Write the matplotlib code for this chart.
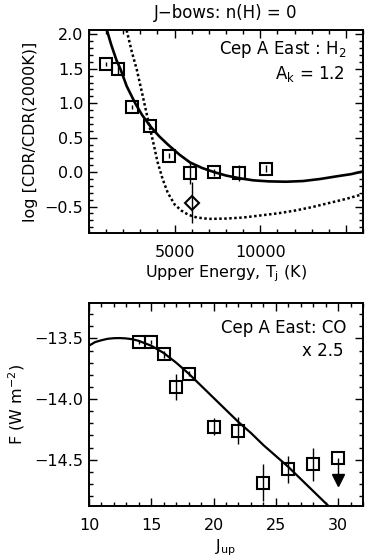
import numpy as np
import matplotlib
matplotlib.use("Agg")
import matplotlib.pyplot as plt
from matplotlib.ticker import MultipleLocator, FixedLocator, FuncFormatter

plt.rcParams['font.family'] = ['DejaVu Sans']
plt.rcParams['font.size'] = 11
plt.rcParams['axes.linewidth'] = 1.4

# ---- top panel: H2 column density ratio ----
h2_energy = [1000, 1710, 2540, 3550, 4650, 5900, 7290, 8740, 10310]
h2_logcdr = [1.57, 1.49, 0.94, 0.67, 0.24, -0.02, 0.00, -0.01, 0.05]
h2_err = [0.03, 0.06, 0.03, 0.03, 0.03, 0.15, 0.05, 0.12, 0.05]

diam_energy = [6030]
diam_logcdr = [-0.445]
diam_err = [0.30]

solid_x = [1050, 1300, 1600, 1850, 2200, 2700, 3100, 3600, 4100, 4650, 5300, 5900,
           6600, 7300, 8000, 8800, 9600, 10500, 11500, 12500, 13500, 14500, 15300, 16000]
solid_y = [2.06, 1.85, 1.63, 1.49, 1.25, 1.00, 0.83, 0.66, 0.52, 0.39, 0.25, 0.14,
           0.06, 0.00, -0.05, -0.09, -0.12, -0.135, -0.14, -0.13, -0.10, -0.06, -0.03, 0.01]

dot_x = [2200, 2500, 2800, 3100, 3500, 3800, 4000, 4300, 4600, 5000, 5400, 5800, 6300,
         7000, 8000, 9000, 10000, 11000, 12000, 13000, 14000, 15000, 16000]
dot_y = [2.06, 1.75, 1.48, 1.15, 0.70, 0.38, 0.15, -0.10, -0.30, -0.47, -0.56, -0.62, -0.66,
         -0.68, -0.675, -0.66, -0.63, -0.60, -0.56, -0.51, -0.45, -0.39, -0.32]

# ---- bottom panel: CO fluxes ----
co_j = [14, 15, 16, 17, 18, 20, 22, 24, 26, 28]
co_logf = [-13.53, -13.53, -13.63, -13.90, -13.79, -14.23, -14.26, -14.69, -14.58, -14.54]
co_err = [0.02, 0.02, 0.03, 0.11, 0.02, 0.07, 0.11, 0.15, 0.11, 0.14]
lim_j = [30]
lim_logf = [-14.49]
lim_arrow = [-14.67]

co_model_j = [10, 10.5, 11, 11.5, 12, 12.5, 13, 13.5, 14, 14.5, 15, 15.5, 16, 17, 18,
              19, 20, 21, 22, 23, 24, 25, 26, 27, 28, 29, 29.2]
co_model_f = [-13.56, -13.53, -13.515, -13.503, -13.498, -13.497, -13.50, -13.507,
              -13.52, -13.54, -13.56, -13.59, -13.62, -13.70, -13.79, -13.89, -13.99,
              -14.09, -14.19, -14.28, -14.38, -14.47, -14.56, -14.66, -14.76, -14.86, -14.88]

minus_fmt = FuncFormatter(lambda v, p: ('%.1f' % v).replace('-', '\u2212'))

fig = plt.figure(figsize=(3.66, 5.60), dpi=100)
ax1 = fig.add_axes([0.243, 0.5845, 0.749, 0.3615])
ax2 = fig.add_axes([0.243, 0.097, 0.749, 0.3614])

for ax in (ax1, ax2):
    ax.tick_params(which='both', direction='in', top=True, right=True, width=1.0)
    ax.tick_params(which='major', length=6, labelsize=11.5)
    ax.tick_params(which='minor', length=3)
    ax.tick_params(axis='x', which='major', pad=9)
    ax.tick_params(axis='y', which='major', pad=4)

# top
ax1.plot(solid_x, solid_y, color='k', lw=1.9)
ax1.plot(dot_x, dot_y, color='k', lw=1.8, ls=(0, (1, 1)))
ax1.errorbar(h2_energy, h2_logcdr, yerr=h2_err, fmt='s', mfc='none', mec='k', ms=8,
             mew=1.5, ecolor='k', elinewidth=1.0, capsize=0)
ax1.errorbar(diam_energy, diam_logcdr, yerr=diam_err, fmt='D', mfc='none', mec='k', ms=7,
             mew=1.5, ecolor='k', elinewidth=1.0, capsize=0)
ax1.set_xlim(0, 16000)
ax1.set_ylim(-0.88, 2.06)
ax1.xaxis.set_major_locator(FixedLocator([5000, 10000, 15000]))
ax1.set_xticklabels(['5000', '10000', ''])
ax1.xaxis.set_minor_locator(MultipleLocator(1000))
ax1.yaxis.set_major_locator(MultipleLocator(0.5))
ax1.yaxis.set_minor_locator(MultipleLocator(0.1))
ax1.yaxis.set_major_formatter(minus_fmt)
ax1.set_xlabel('Upper Energy, T$_\\mathregular{j}$ (K)', fontsize=11.5, labelpad=2)
ax1.set_ylabel('log [CDR/CDR(2000K)]', fontsize=11.5, labelpad=5)
ax1.set_title('J\u2212bows: n(H) = 0', fontsize=12, pad=9)
ax1.text(0.94, 0.905, 'Cep A East : H$_\\mathregular{2}$', transform=ax1.transAxes,
         ha='right', va='center', fontsize=12)
ax1.text(0.93, 0.785, 'A$_\\mathregular{k}$ = 1.2', transform=ax1.transAxes,
         ha='right', va='center', fontsize=12)

# bottom
ax2.plot(co_model_j, co_model_f, color='k', lw=1.6)
ax2.errorbar(co_j, co_logf, yerr=co_err, fmt='s', mfc='none', mec='k', ms=8,
             mew=1.5, ecolor='k', elinewidth=1.0, capsize=0)
ax2.plot(lim_j, lim_logf, 's', mfc='none', mec='k', ms=8, mew=1.5)
ax2.vlines(lim_j, lim_arrow, lim_logf, color='k', lw=1.0)
ax2.plot(lim_j, lim_arrow, 'v', color='k', ms=9)
ax2.set_xlim(10, 32)
ax2.set_ylim(-14.88, -13.21)
ax2.xaxis.set_major_locator(MultipleLocator(5))
ax2.xaxis.set_minor_locator(MultipleLocator(1))
ax2.yaxis.set_major_locator(MultipleLocator(0.5))
ax2.yaxis.set_minor_locator(MultipleLocator(0.1))
ax2.yaxis.set_major_formatter(minus_fmt)
ax2.set_xlabel('J$_\\mathregular{up}$', fontsize=11.5, labelpad=3)
ax2.set_ylabel('F (W m$^\\mathregular{-2}$)', fontsize=11.5, labelpad=5)
ax2.text(0.94, 0.88, 'Cep A East: CO', transform=ax2.transAxes,
         ha='right', va='center', fontsize=12)
ax2.text(0.93, 0.765, 'x 2.5', transform=ax2.transAxes,
         ha='right', va='center', fontsize=12)

fig.savefig('out.png', dpi=100)
